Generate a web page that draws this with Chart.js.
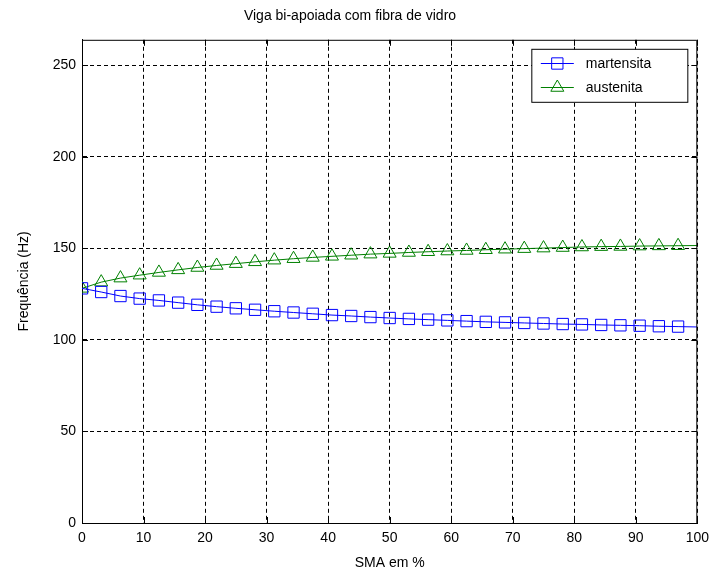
<!DOCTYPE html>
<html>
<head>
<meta charset="utf-8">
<script src="https://cdn.jsdelivr.net/npm/chart.js@4.4.0/dist/chart.umd.min.js"></script>
<style>
    html, body { margin: 0; padding: 0; background: #fff; }
    #wrap { width: 716px; height: 574px; }
</style>
</head>
<body>
<div id="wrap"><canvas id="chart" width="716" height="574"></canvas></div>
<script>
// SMA em % (one marker every 3.125 %, line runs on to 100 %)
const smaPercent = [0, 3.125, 6.25, 9.375, 12.5, 15.625, 18.75, 21.875, 25, 28.125, 31.25,
    34.375, 37.5, 40.625, 43.75, 46.875, 50, 53.125, 56.25, 59.375, 62.5, 65.625, 68.75,
    71.875, 75, 78.125, 81.25, 84.375, 87.5, 90.625, 93.75, 96.875, 100];

const martensita = [128.2, 126.2, 124.0, 122.6, 121.6, 120.4, 119.2, 118.2, 117.3, 116.5, 115.7,
    115.0, 114.3, 113.6, 113.1, 112.5, 112.0, 111.5, 111.1, 110.7, 110.3, 109.9, 109.6,
    109.3, 109.0, 108.7, 108.5, 108.2, 108.0, 107.8, 107.5, 107.3, 107.1];

const austenita = [128.2, 131.6, 133.8, 135.4, 136.9, 138.3, 139.6, 140.7, 141.7, 142.7, 143.6,
    144.4, 145.1, 145.7, 146.3, 146.9, 147.3, 147.8, 148.2, 148.6, 148.9, 149.3, 149.6,
    149.9, 150.2, 150.5, 150.8, 151.0, 151.1, 151.3, 151.4, 151.5, 151.6];

// last point has no marker
const markerShown = smaPercent.map((x, i) => i < smaPercent.length - 1);

const xTickValues = [0, 10, 20, 30, 40, 50, 60, 70, 80, 90, 100];
const yTickValues = [0, 50, 100, 150, 200, 250];

const FONT = '"Liberation Sans", Arial, sans-serif';

// box on + inward ticks, like the matlab axes
const axesFrame = {
    id: 'axesFrame',
    afterDatasetsDraw(chart) {
        const { ctx, chartArea: a, scales: { x, y } } = chart;
        ctx.save();
        ctx.strokeStyle = '#000';
        ctx.lineWidth = 1;
        ctx.setLineDash([]);
        ctx.beginPath();
        ctx.moveTo(a.left + 0.5, a.top + 0.5);
        ctx.lineTo(a.right - 0.5, a.top + 0.5);
        ctx.lineTo(a.right - 0.5, a.bottom);
        xTickValues.forEach(v => {
            const px = Math.round(x.getPixelForValue(v)) + 0.5;
            ctx.moveTo(px, a.bottom);
            ctx.lineTo(px, a.bottom - 6);
            ctx.moveTo(px, a.top);
            ctx.lineTo(px, a.top + 6);
        });
        yTickValues.forEach(v => {
            const py = Math.round(y.getPixelForValue(v)) + 0.5;
            ctx.moveTo(a.left, py);
            ctx.lineTo(a.left + 6, py);
            ctx.moveTo(a.right, py);
            ctx.lineTo(a.right - 6, py);
        });
        ctx.stroke();
        ctx.restore();
    }
};

// legend box in the upper right corner of the axes
const legendBox = {
    id: 'legendBox',
    afterDraw(chart) {
        const { ctx, chartArea: a } = chart;
        const w = 156, h = 53;
        const left = a.right - 10 - w + 0.5;
        const top = a.top + 9 + 0.5;
        ctx.save();
        ctx.fillStyle = '#fff';
        ctx.fillRect(left, top, w, h);
        ctx.strokeStyle = '#000';
        ctx.lineWidth = 1;
        ctx.strokeRect(left, top, w, h);
        ctx.font = '14px ' + FONT;
        ctx.textBaseline = 'middle';
        chart.data.datasets.forEach((ds, i) => {
            const yy = Math.round(top + 14 + i * 24);
            ctx.strokeStyle = ds.borderColor;
            ctx.lineWidth = 1;
            ctx.beginPath();
            ctx.moveTo(left + 9, yy + 0.5);
            ctx.lineTo(left + 42, yy + 0.5);
            ctx.stroke();
            ctx.fillStyle = 'rgba(0,0,0,0)';
            Chart.helpers.drawPoint(ctx, {
                pointStyle: ds.pointStyle,
                radius: ds.pointRadius[0],
                borderWidth: 1
            }, left + 25.5, yy + 0.5);
            ctx.fillStyle = '#000';
            ctx.fillText(ds.label, left + 54, yy + 1);
        });
        ctx.restore();
    }
};

function series(label, values, color, style, size) {
    return {
        label: label,
        data: smaPercent.map((x, i) => ({ x: x, y: values[i] })),
        borderColor: color,
        borderWidth: 1,
        pointStyle: style,
        pointRadius: markerShown.map(s => s ? size : 0),
        pointBorderColor: color,
        pointBackgroundColor: 'rgba(0,0,0,0)',
        pointBorderWidth: 1,
        tension: 0,
        fill: false
    };
}

new Chart(document.getElementById('chart'), {
    type: 'line',
    data: {
        datasets: [
            series('martensita', martensita, '#0000ff', 'rect', 8),
            series('austenita', austenita, '#008000', 'triangle', 7.5)
        ]
    },
    options: {
        responsive: false,
        animation: false,
        devicePixelRatio: 1,
        layout: { padding: { left: 0, right: 16, top: 0, bottom: 0 } },
        plugins: {
            legend: { display: false },
            tooltip: { enabled: false },
            title: {
                display: true,
                text: 'Viga bi-apoiada com fibra de vidro',
                color: '#000',
                font: { family: FONT, size: 14, weight: 'normal' },
                padding: { top: 8, bottom: 15 }
            }
        },
        scales: {
            x: {
                type: 'linear',
                min: 0,
                max: 100,
                afterFit: s => { s.height = 51; },
                afterBuildTicks: s => { s.ticks = xTickValues.map(v => ({ value: v })); },
                ticks: { color: '#000', padding: 7, maxRotation: 0, font: { family: FONT, size: 14 } },
                grid: { color: '#000', lineWidth: 1, drawTicks: false },
                border: { display: true, color: '#000', width: 1, dash: [4, 3] },
                title: {
                    display: true,
                    text: 'SMA em %',
                    color: '#000',
                    font: { family: FONT, size: 14 },
                    padding: { top: 0, bottom: 2 }
                }
            },
            y: {
                min: 0,
                max: 264,
                afterFit: s => { s.width = 82; },
                afterBuildTicks: s => { s.ticks = yTickValues.map(v => ({ value: v })); },
                ticks: { color: '#000', padding: 6, font: { family: FONT, size: 14 } },
                grid: { color: '#000', lineWidth: 1, drawTicks: false },
                border: { display: true, color: '#000', width: 1, dash: [4, 3] },
                title: {
                    display: true,
                    text: 'Frequência (Hz)',
                    color: '#000',
                    font: { family: FONT, size: 14 },
                    padding: { top: 16, bottom: 0 }
                }
            }
        }
    },
    plugins: [axesFrame, legendBox]
});
</script>
</body>
</html>
